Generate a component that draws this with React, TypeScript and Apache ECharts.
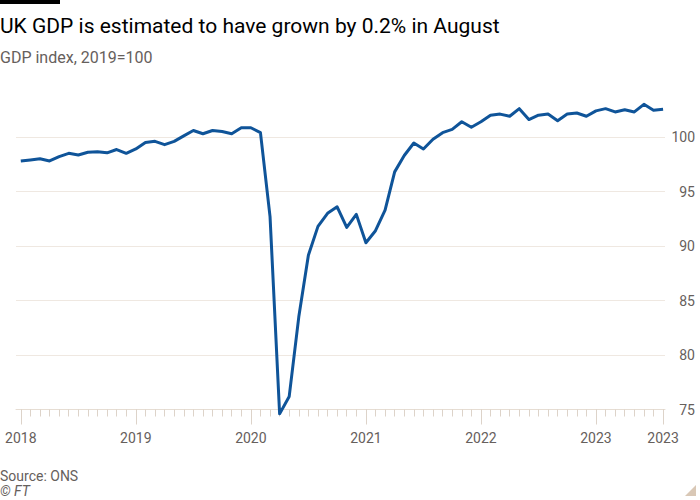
import React, { useEffect, useRef } from "react";
import * as echarts from "echarts";

const title = "UK GDP is estimated to have grown by 0.2% in August";
const subtitle = "GDP index, 2019=100";
const source = "Source: ONS";
const credit = "© FT";

// Monthly GDP index, Jan 2018 .. Aug 2023
const gdp2018 = [97.8, 97.9, 98.0, 97.8, 98.2, 98.5, 98.35, 98.6, 98.65, 98.55, 98.85, 98.5];
const gdp2019 = [98.9, 99.5, 99.6, 99.3, 99.6, 100.1, 100.6, 100.3, 100.6, 100.5, 100.3, 100.85];
const gdp2020 = [100.85, 100.4, 92.7, 74.6, 76.2, 83.5, 89.15, 91.8, 93.0, 93.6, 91.7, 92.9];
const gdp2021 = [90.3, 91.4, 93.3, 96.8, 98.3, 99.45, 98.9, 99.8, 100.4, 100.7, 101.4, 100.9];
const gdp2022 = [101.4, 102.0, 102.1, 101.9, 102.6, 101.6, 102.0, 102.1, 101.5, 102.1, 102.2, 101.9];
const gdp2023 = [102.4, 102.6, 102.3, 102.5, 102.3, 103.0, 102.45, 102.55];

const startYear = 2018;
const yearTickMonths = [0, 12, 24, 36, 48, 60, 67];
const yTicks = [75, 80, 85, 90, 95, 100];

export default function App() {
  const ref = useRef<HTMLDivElement>(null);
  useEffect(() => {
    if (!ref.current) return;
    const chart = echarts.init(ref.current, null, { renderer: "svg" });
    const values = [...gdp2018, ...gdp2019, ...gdp2020, ...gdp2021, ...gdp2022, ...gdp2023];
    const data = values.map((v, i) => [i, v]);
    const monthTicks = values.map((_, i) => i);
    const muted = "#66605c";
    const font = "Roboto, 'Noto Sans', sans-serif";
    chart.setOption({
      animation: false,
      backgroundColor: "#ffffff",
      grid: { left: 16, right: 35, top: 93.4, bottom: 90.5, containLabel: false },
      xAxis: [
        {
          type: "value",
          position: "bottom",
          min: -0.5,
          max: 67.2,
          axisLine: { show: true, lineStyle: { color: "#e6ddd3", width: 1 } },
          axisTick: { show: true, customValues: monthTicks, length: 7, lineStyle: { color: "#ddd3c9", width: 1 } },
          axisLabel: {
            show: true,
            customValues: yearTickMonths,
            formatter: (v: number) => String(startYear + Math.floor(v / 12)),
            color: muted,
            fontSize: 14,
            fontFamily: font,
            margin: 21,
          },
          splitLine: { show: false },
        },
        {
          type: "value",
          position: "bottom",
          min: -0.5,
          max: 67.2,
          axisLine: { show: false },
          axisTick: { show: true, customValues: yearTickMonths, length: 15, lineStyle: { color: "#ddd3c9", width: 1 } },
          axisLabel: { show: false },
          splitLine: { show: false },
        },
      ],
      yAxis: {
        type: "value",
        position: "right",
        min: 75,
        max: 104,
        axisLine: { show: false },
        axisTick: { show: false, customValues: yTicks },
        axisLabel: {
          customValues: yTicks,
          color: muted,
          fontSize: 14,
          fontFamily: font,
          align: "right",
          margin: 30,
        },
        splitLine: { show: true, lineStyle: { color: "#efe8e1", width: 1 } },
      },
      series: [
        {
          type: "line",
          data,
          showSymbol: false,
          symbol: "none",
          clip: false,
          lineStyle: { color: "#0f5499", width: 3, join: "round" },
          xAxisIndex: 0,
          yAxisIndex: 0,
        },
      ],
      graphic: [
        { type: "rect", left: 0, top: 0, shape: { width: 60, height: 4 }, style: { fill: "#000000" } },
        {
          type: "text",
          left: 0,
          top: 15,
          style: { text: title, fontSize: 21, fontFamily: font, fill: "#000000" },
        },
        {
          type: "text",
          left: 0,
          top: 49,
          style: { text: subtitle, fontSize: 16, fontFamily: font, fill: muted },
        },
        {
          type: "text",
          left: 0,
          top: 469,
          style: { text: source, fontSize: 14, lineHeight: 14, fontFamily: font, fill: muted },
        },
        {
          type: "text",
          left: 0,
          top: 484,
          style: { text: credit, fontSize: 14, lineHeight: 14, fontFamily: font, fontStyle: "italic", fill: muted },
        },
        {
          type: "polygon",
          shape: { points: [[696, 485], [696, 496], [685, 496]] },
          style: { fill: "#d9c8b6" },
        },
      ],
    });
    return () => chart.dispose();
  }, []);
  return (
    <div
      ref={ref}
      style={{ position: "absolute", left: 0, top: 0, width: 700, height: 500 }}
    />
  );
}
